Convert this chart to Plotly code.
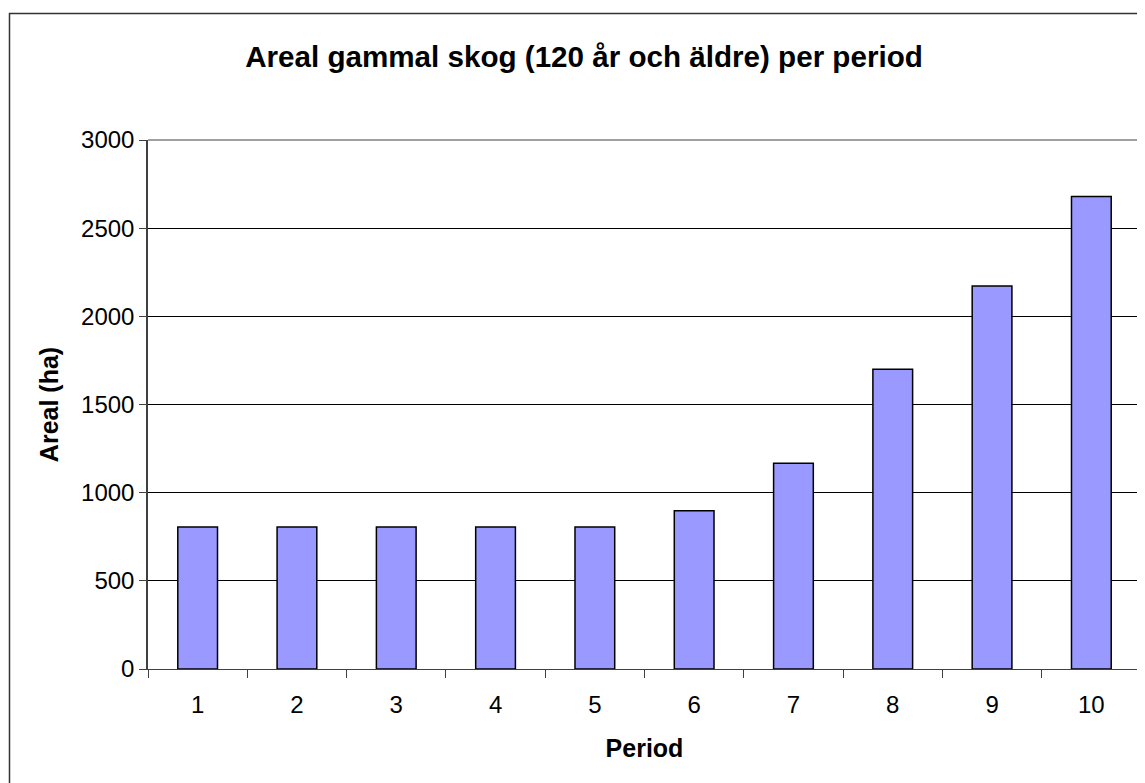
import plotly.graph_objects as go

periods = ["1", "2", "3", "4", "5", "6", "7", "8", "9", "10"]
areal_ha = [805, 805, 805, 805, 805, 898, 1167, 1700, 2172, 2680]
y_ticks = [0, 500, 1000, 1500, 2000, 2500, 3000]

# page body has an 8px default margin; figure sized to fit window
W, H = 1137, 775
L, R, T, B = 140, 4, 132, 114
pw, ph = W - L - R, H - T - B

FONT = "Liberation Sans, Arial, sans-serif"

fig = go.Figure(go.Bar(
    x=periods, y=areal_ha,
    marker=dict(color="#9999FF", line=dict(color="#000000", width=1.5)),
    width=0.4,
))

fig.update_layout(
    width=W, height=H,
    margin=dict(l=L, r=R, t=T, b=B),
    paper_bgcolor="white", plot_bgcolor="white",
    showlegend=False,
    font=dict(family=FONT, size=24, color="black"),
    title=dict(text="<b>Areal gammal skog (120 år och äldre) per period</b>",
               x=576 / W, xanchor="center", y=1 - 49 / H, yanchor="middle",
               font=dict(family=FONT, size=29.6, color="black")),
    xaxis=dict(
        type="category", tickson="boundaries", ticks="outside", ticklen=8,
        tickcolor="#404040", tickwidth=1,
        showline=True, linecolor="#404040", linewidth=1,
        showgrid=False, tickfont=dict(size=24), ticklabelstandoff=14,
        title=dict(text="<b>Period</b>", standoff=22, font=dict(size=25)),
    ),
    yaxis=dict(
        range=[0, 3000], tickvals=y_ticks, ticks="outside", ticklen=7,
        tickcolor="#404040", tickwidth=1,
        showline=True, linecolor="#404040", linewidth=1.5,
        showgrid=True, gridcolor="#000000", gridwidth=1,
        zeroline=False, tickfont=dict(size=24), ticklabelstandoff=0,
        title=dict(text="<b>Areal (ha)</b>", standoff=15, font=dict(size=25)),
    ),
    shapes=[
        dict(type="line", xref="paper", yref="paper", x0=0, x1=1, y0=1, y1=1,
             line=dict(color="#808080", width=1.5), layer="above"),
        dict(type="line", xref="paper", yref="paper", x0=1, x1=1, y0=0, y1=1,
             line=dict(color="#808080", width=1.5), layer="above"),
        dict(type="rect", xref="paper", yref="paper",
             x0=(1.5 - L) / pw, x1=(W + 20 - L) / pw,
             y0=-(B + 20) / ph, y1=1 + (T - 5.5) / ph,
             line=dict(color="#333333", width=1.5), layer="above"),
    ],
)

fig.write_html("out.html")
